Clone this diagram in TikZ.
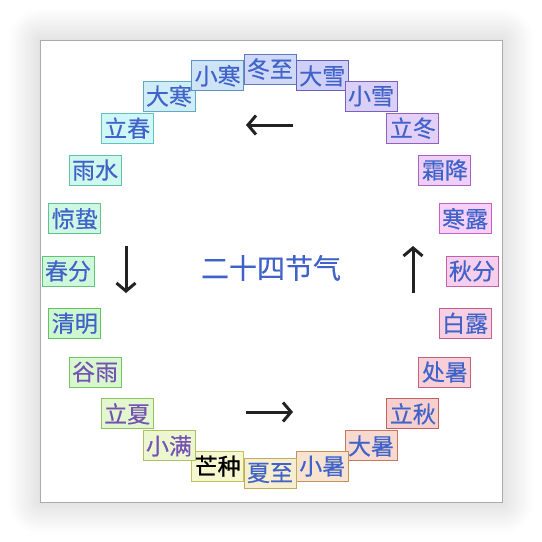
\documentclass[tikz,border=0pt]{standalone}
\usepackage{fontspec}
\newfontfamily\cjk[FakeBold=0.4]{Noto Sans CJK SC}
\newfontfamily\cjkbold[FakeBold=1.2]{Noto Sans CJK SC}
\usetikzlibrary{arrows.meta,shadows.blur}
\definecolor{txtblue}{HTML}{3F63C9}
\definecolor{txtpurple}{HTML}{7452B4}
\definecolor{arrowc}{HTML}{222222}
\definecolor{cardline}{HTML}{ABABAB}
\tikzset{
  term/.style={draw, line width=0.9pt, minimum width=52pt, minimum height=30pt, inner sep=0pt,
    font=\cjk\fontsize{23}{23}\selectfont},
  dirarrow/.style={line width=3pt, draw=arrowc, -{Straight Barb[length=8pt,width=19pt]}},
  titletext/.style={font=\cjk\fontsize{28}{28}\selectfont, text=txtblue},
}
\begin{document}
\begin{tikzpicture}[x=1pt,y=-1pt]
\useasboundingbox (0,0) rectangle (542,542);
\fill[white, blur shadow={shadow xshift=0pt,shadow yshift=0pt,shadow blur radius=32pt,shadow blur steps=24,shadow opacity=22}] (40,40) rectangle (502,502);
\draw[cardline, line width=1pt] (40,40) rectangle (502,502);
\foreach \name [count=\k from 0] in {冬至,大雪,小雪,立冬,霜降,寒露,秋分,白露,处暑,立秋,大暑,小暑,夏至,芒种,小满,立夏,谷雨,清明,春分,惊蛰,雨水,立春,大寒,小寒} {
  \pgfmathsetmacro\px{270+202*sin(15*\k)}
  \pgfmathsetmacro\py{271-202*cos(15*\k)}
  \pgfmathsetmacro\hue{mod(225+15*\k,360)}
  \definecolor{tmpfill}{Hsb}{\hue,0.165,0.97}
  \definecolor{tmpline}{Hsb}{\hue,0.5,0.76}
  \colorlet{boxfill}[rgb]{tmpfill}
  \colorlet{boxline}[rgb]{tmpline}
  \def\tc{txtblue}
  \def\tf{}
  \ifnum\k=13 \def\tc{black}\def\tf{\cjkbold}\fi
  \ifnum\k>13 \ifnum\k<17 \def\tc{txtpurple}\fi\fi
  \node[term, fill=boxfill, draw=boxline, text=\tc] (n\k) at (\px,\py) {\tf\name};
}
\node[titletext] (title) at (271,268) {二十四节气};
\coordinate (la) at (293,125); \coordinate (lb) at (246,125);
\draw[dirarrow] (la) -- (lb);
\coordinate (ra) at (246,412); \coordinate (rb) at (293,412);
\draw[dirarrow] (ra) -- (rb);
\coordinate (da) at (126,246); \coordinate (db) at (126,293);
\draw[dirarrow] (da) -- (db);
\coordinate (ua) at (413,293); \coordinate (ub) at (413,246);
\draw[dirarrow] (ua) -- (ub);
\end{tikzpicture}
\end{document}
